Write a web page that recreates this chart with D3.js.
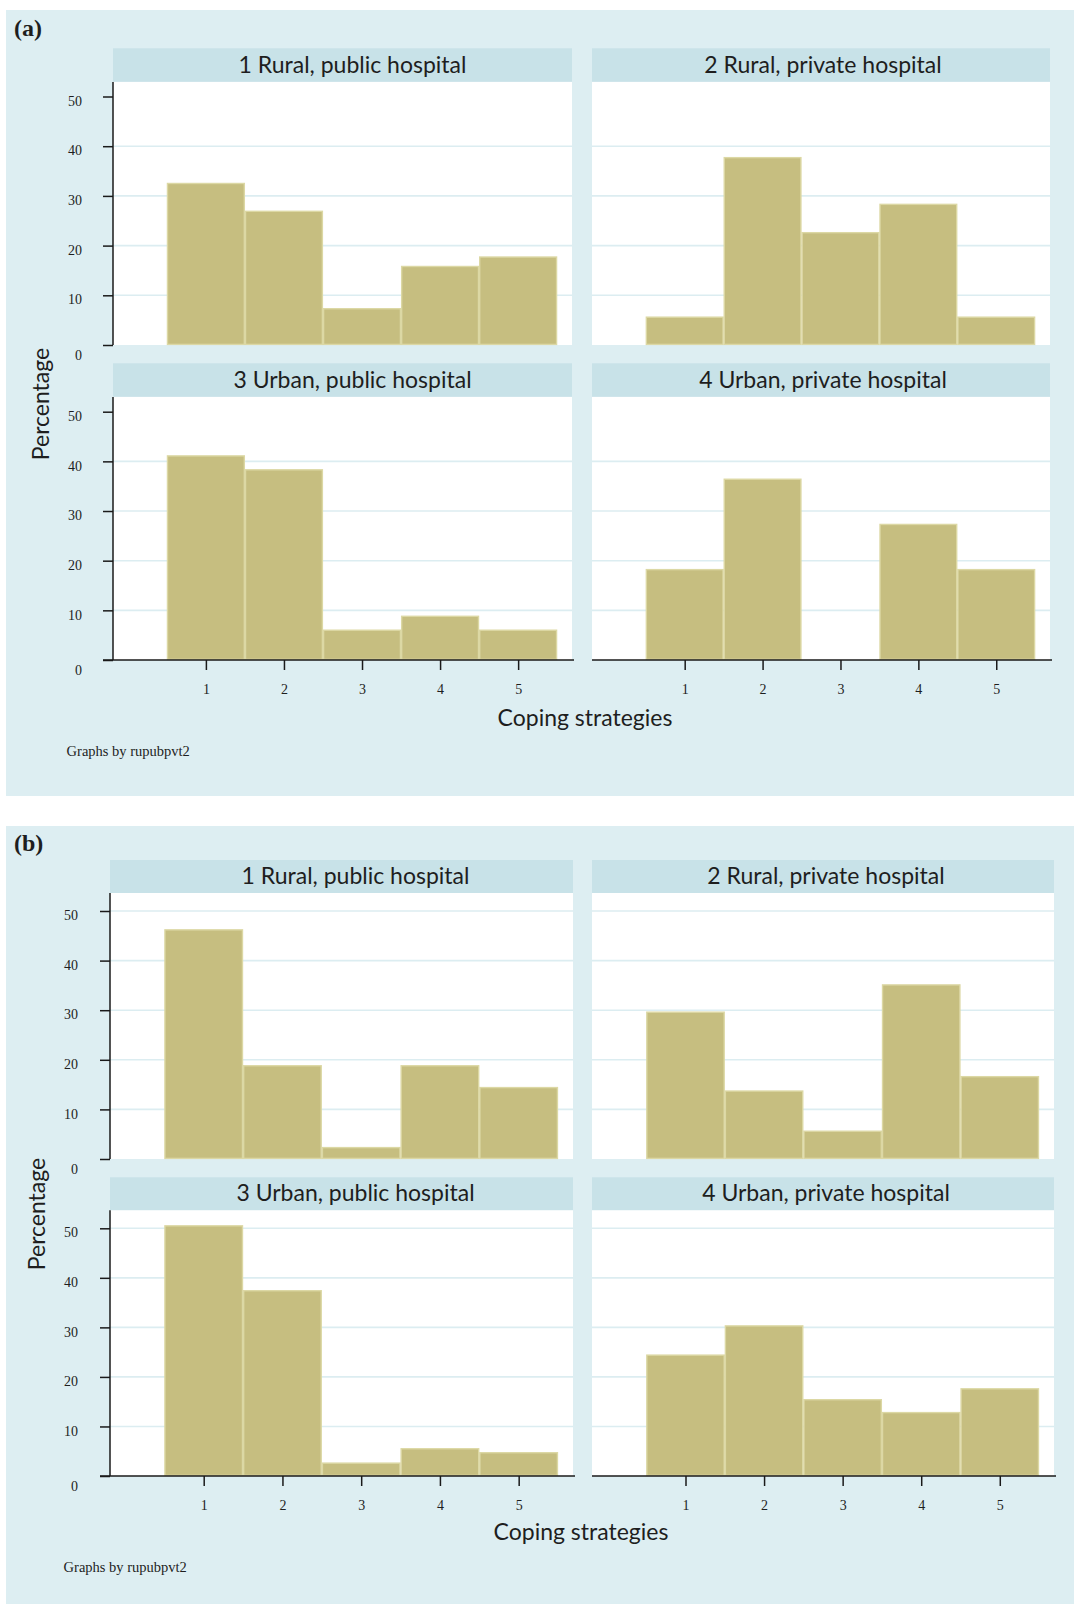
<!DOCTYPE html>
<html>
<head>
<meta charset="utf-8">
<script src="https://cdn.jsdelivr.net/npm/d3@7"></script>
<style>
  html, body { margin: 0; padding: 0; background: #ffffff; }
  svg { display: block; }
</style>
</head>
<body>
<svg id="chart" width="1074" height="1604"></svg>
<script>
// ---------------- DATA ----------------
const categories = [1, 2, 3, 4, 5];
const panelTitles = [
  "1 Rural, public hospital",
  "2 Rural, private hospital",
  "3 Urban, public hospital",
  "4 Urban, private hospital"
];
const yTicks = [0, 10, 20, 30, 40, 50];
const gridTicksA = [10, 20, 30, 40];
const gridTicksB = [10, 20, 30, 40, 50];

// Figure (a): percentage by coping strategy
const a_ruralPublic  = [32.5, 26.9, 7.3, 15.8, 17.7];
const a_ruralPrivate = [5.6, 37.7, 22.6, 28.3, 5.6];
const a_urbanPublic  = [41.1, 38.3, 6.0, 8.8, 6.0];
const a_urbanPrivate = [18.2, 36.4, 0, 27.3, 18.2];

// Figure (b)
const b_ruralPublic  = [46.2, 18.8, 2.3, 18.8, 14.4];
const b_ruralPrivate = [29.6, 13.7, 5.6, 35.1, 16.6];
const b_urbanPublic  = [50.5, 37.4, 2.6, 5.5, 4.7];
const b_urbanPrivate = [24.4, 30.3, 15.4, 12.8, 17.6];

const xTitle = "Coping strategies";
const yTitle = "Percentage";
const noteText = "Graphs by rupubpvt2";

// ---------------- STYLE / LAYOUT ----------------
const C = {
  bg: "#ddeef2",
  header: "#c8e2e8",
  grid: "#dcedf1",
  plot: "#ffffff",
  bar: "#c6be80",
  barStroke: "#dcd8a4",
  axis: "#1a1a1a",
  text: "#1e1e1e"
};
const sans = "Lato, 'Open Sans', sans-serif";
const serif = "'Liberation Serif', 'DejaVu Serif', serif";

const figures = [
  {
    tag: "a", data: [a_ruralPublic, a_ruralPrivate, a_urbanPublic, a_urbanPrivate],
    grid: gridTicksA,
    bg: { x: 6, y: 10, w: 1068, h: 786 },
    tagPos: { x: 14, y: 36 },
    cols: [[113, 572], [592, 1050]],
    headTop: [48.3, 363.3], headH: 33.6,
    y0: [345, 660], y50: [96.5, 411.7],
    titleOff: [10, 2],
    tickLabRight: 31,
    xTitle: { x: 585, y: 726 },
    yTitle: { x: 49, y: 404 },
    note: { x: 66.6, y: 756 }
  },
  {
    tag: "b", data: [b_ruralPublic, b_ruralPrivate, b_urbanPublic, b_urbanPrivate],
    grid: gridTicksB,
    bg: { x: 6, y: 826, w: 1068, h: 778 },
    tagPos: { x: 14, y: 851 },
    cols: [[110, 573], [592, 1054]],
    headTop: [860, 1177.3], headH: 33,
    y0: [1159, 1476], y50: [911, 1228.3],
    titleOff: [14, 3],
    tickLabRight: 32,
    xTitle: { x: 581, y: 1540 },
    yTitle: { x: 45, y: 1214 },
    note: { x: 63.6, y: 1572 }
  }
];

const svg = d3.select("#chart");

figures.forEach(fig => {
  const g = svg.append("g");
  g.append("rect")
    .attr("x", fig.bg.x).attr("y", fig.bg.y)
    .attr("width", fig.bg.w).attr("height", fig.bg.h)
    .attr("fill", C.bg);

  g.append("text")
    .attr("x", fig.tagPos.x).attr("y", fig.tagPos.y)
    .attr("font-family", serif).attr("font-size", 24).attr("font-weight", "bold")
    .attr("fill", C.text)
    .text("(" + fig.tag + ")");

  fig.data.forEach((vals, i) => {
    const col = i % 2, row = Math.floor(i / 2);
    const [left, right] = fig.cols[col];
    const hTop = fig.headTop[row];
    const hBot = hTop + fig.headH;
    const y0 = fig.y0[row];

    const x = d3.scaleLinear().domain([-0.19, 5.69]).range([left, right]);
    const y = d3.scaleLinear().domain([0, 50]).range([y0, fig.y50[row]]);

    const p = g.append("g");
    // header strip
    p.append("rect")
      .attr("x", left).attr("y", hTop)
      .attr("width", right - left).attr("height", fig.headH)
      .attr("fill", C.header);
    p.append("text")
      .attr("x", (left + right) / 2 + fig.titleOff[col])
      .attr("y", hTop + fig.headH - 9)
      .attr("text-anchor", "middle")
      .attr("font-family", sans).attr("font-size", 23)
      .attr("fill", C.text)
      .text(panelTitles[i]);

    // plot area
    p.append("rect")
      .attr("x", left).attr("y", hBot)
      .attr("width", right - left).attr("height", y0 - hBot)
      .attr("fill", C.plot);

    // gridlines
    p.selectAll("line.grid").data(fig.grid).join("line")
      .attr("class", "grid")
      .attr("x1", left).attr("x2", right)
      .attr("y1", d => y(d)).attr("y2", d => y(d))
      .attr("stroke", C.grid).attr("stroke-width", 1.6);

    // bars
    p.selectAll("rect.bar").data(categories.map((c, k) => ({ c, v: vals[k] })).filter(d => d.v > 0))
      .join("rect")
      .attr("class", "bar")
      .attr("x", d => x(d.c - 0.5) + 0.6)
      .attr("width", d => x(d.c + 0.5) - x(d.c - 0.5) - 1.2)
      .attr("y", d => y(d.v))
      .attr("height", d => y0 - y(d.v) - 0.6)
      .attr("fill", C.bar)
      .attr("stroke", C.barStroke).attr("stroke-width", 1.4);

    // y axis (left column only)
    if (col === 0) {
      const ya = p.append("g").attr("transform", `translate(${left},0)`)
        .call(d3.axisLeft(y).tickValues(yTicks).tickSize(10).tickPadding(fig.tickLabRight - 10).tickFormat(d3.format("d")));
      ya.select(".domain").attr("d", `M0,${hBot}V${y0}`).attr("stroke", C.axis).attr("stroke-width", 1.5);
      ya.selectAll(".tick line").attr("stroke", C.axis).attr("stroke-width", 1.5);
      ya.selectAll(".tick text")
        .attr("font-family", serif).attr("font-size", 14).attr("fill", C.text)
        .attr("dy", d => d === 0 ? "1.0em" : "0.62em");
    }

    // x axis (bottom row only)
    if (row === 1) {
      const xa = p.append("g").attr("transform", `translate(0,${y0})`)
        .call(d3.axisBottom(x).tickValues(categories).tickSize(10).tickPadding(14).tickFormat(d3.format("d")));
      const xStart = col === 0 ? left - 10 : left;
      xa.select(".domain").attr("d", `M${xStart},0H${right + 2}`).attr("stroke", C.axis).attr("stroke-width", 1.5);
      xa.selectAll(".tick line").attr("stroke", C.axis).attr("stroke-width", 1.5);
      xa.selectAll(".tick text")
        .attr("font-family", serif).attr("font-size", 14).attr("fill", C.text);
    }
  });

  // axis titles
  g.append("text")
    .attr("x", fig.xTitle.x).attr("y", fig.xTitle.y)
    .attr("text-anchor", "middle")
    .attr("font-family", sans).attr("font-size", 23).attr("fill", C.text)
    .text(xTitle);
  g.append("text")
    .attr("transform", `translate(${fig.yTitle.x},${fig.yTitle.y}) rotate(-90)`)
    .attr("text-anchor", "middle")
    .attr("font-family", sans).attr("font-size", 23).attr("fill", C.text)
    .text(yTitle);
  g.append("text")
    .attr("x", fig.note.x).attr("y", fig.note.y)
    .attr("font-family", serif).attr("font-size", 14.5).attr("fill", C.text)
    .text(noteText);
});
</script>
</body>
</html>
